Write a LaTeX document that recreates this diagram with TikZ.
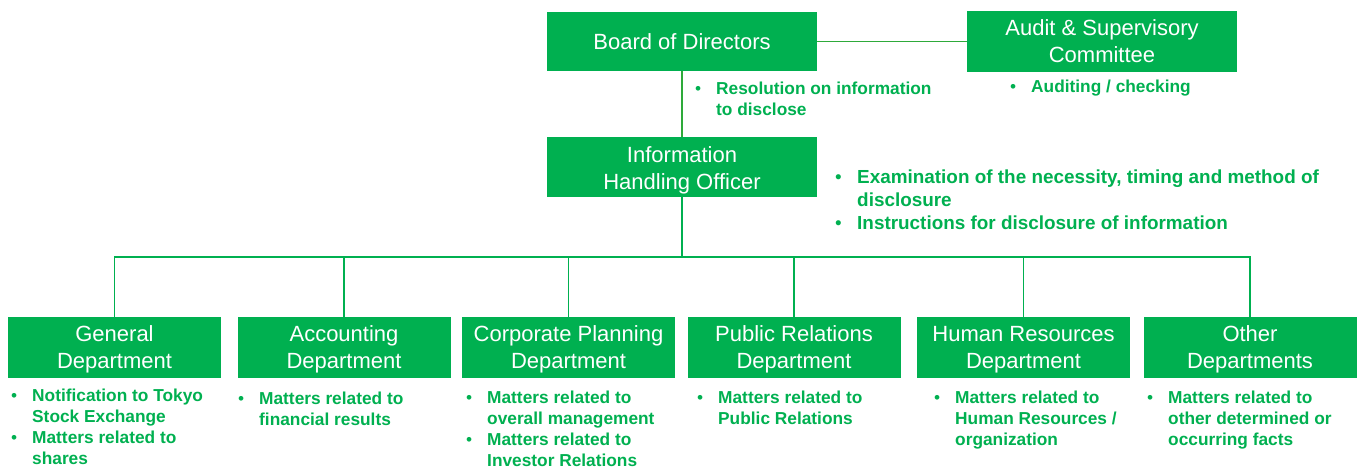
\documentclass[tikz,border=0pt]{standalone}
\usepackage{fontspec}
\setmainfont{Liberation Sans}
\definecolor{grn}{HTML}{00B050}
\definecolor{lgrn}{HTML}{2EAA3A}
\newcommand{\blist}[1]{\begin{tabular}[t]{@{}p{21pt}@{}l@{}}#1\end{tabular}}
\newcommand{\bul}{{\mdseries\textbullet}}
\newcommand{\twoline}[2]{\begin{tabular}[t]{@{}c@{}}#1\\#2\end{tabular}}
\begin{document}
\begin{tikzpicture}[x=1pt,y=-1pt,
  box/.style={fill=grn, text=white, inner sep=0pt,
    font=\fontsize{22}{27}\selectfont},
  topbox/.style={box, minimum width=270pt, minimum height=60pt},
  deptbox/.style={box, minimum width=213pt, minimum height=61pt,
    text height=21pt, text depth=33pt},
  note/.style={anchor=base west, inner sep=0pt, text=grn,
    font=\bfseries\fontsize{17.3}{21}\selectfont},
  conn/.style={draw=grn, line width=1.5pt},
  tconn/.style={draw=lgrn, line width=1.5pt}]
\useasboundingbox (0,0) rectangle (1359,468);

% top boxes
\node[topbox, minimum height=59pt] (board) at (682,41.5) {Board of Directors};
\node[topbox, minimum height=61pt, text height=21pt, text depth=32pt] (audit) at (1102,41.5) {\twoline{Audit \& Supervisory}{Committee}};
\node[topbox, text height=21pt, text depth=31pt] (iho) at (682,167) {\twoline{Information}{Handling Officer}};

% departments
\node[deptbox] (gen)  at (114.5,347.5) {\twoline{General}{Department}};
\node[deptbox] (acc)  at (344,347.5)   {\twoline{Accounting}{Department}};
\node[deptbox] (corp) at (568.5,347.5) {\twoline{Corporate Planning}{Department}};
\node[deptbox] (pr)   at (794,347.5)   {\twoline{Public Relations}{Department}};
\node[deptbox] (hr)   at (1023.5,347.5){\twoline{Human Resources}{Department}};
\node[deptbox] (oth)  at (1250,347.5)  {\twoline{Other}{Departments}};

% connectors
\draw[tconn] (board.east) -- (audit.west);
\draw[tconn] (board.south) -- (iho.north);
\coordinate (bus) at (682,257);
\draw[conn] (iho.south) -- (bus);
\foreach \d in {gen,acc,corp,pr,hr,oth}{
  \draw[conn] (bus) -| (\d.north);
}

% notes
\node[note] (nres) at (695,95) {\blist{\bul & Resolution on information\\ & to disclose}};
\node[note] (naud) at (1010,93) {\blist{\bul & Auditing / checking}};
\node[note, font=\bfseries\fontsize{18.9}{23}\selectfont] (niho) at (835,183)
  {\begin{tabular}[t]{@{}p{22pt}@{}l@{}}\bul & Examination of the necessity, timing and method of\\ & disclosure\\ \bul & Instructions for disclosure of information\end{tabular}};
\node[note] (ngen) at (11,401) {\blist{\bul & Notification to Tokyo\\ & Stock Exchange\\ \bul & Matters related to\\ & shares}};
\node[note] (nacc) at (238,404) {\blist{\bul & Matters related to\\ & financial results}};
\node[note] (ncorp) at (466,403) {\blist{\bul & Matters related to\\ & overall management\\ \bul & Matters related to\\ & Investor Relations}};
\node[note] (npr) at (697,403) {\blist{\bul & Matters related to\\ & Public Relations}};
\node[note] (nhr) at (934,403) {\blist{\bul & Matters related to\\ & Human Resources /\\ & organization}};
\node[note] (noth) at (1147,403) {\blist{\bul & Matters related to\\ & other determined or\\ & occurring facts}};
\end{tikzpicture}
\end{document}
